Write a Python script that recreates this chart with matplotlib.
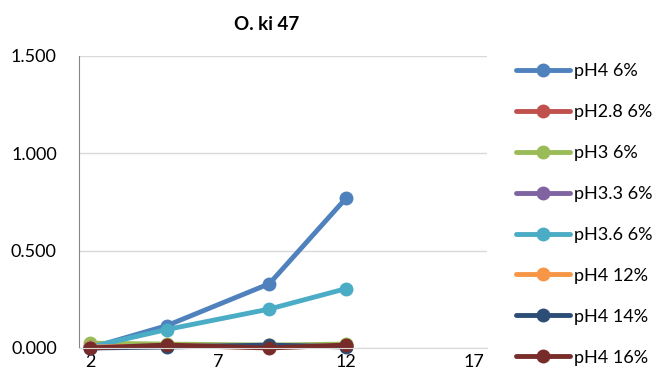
import matplotlib.pyplot as plt

plt.rcParams['font.family'] = ['Lato', 'DejaVu Sans']

x = [2, 5, 9, 12]
labels = ['pH4 6%', 'pH2.8 6%', 'pH3 6%', 'pH3.3 6%', 'pH3.6 6%',
          'pH4 12%', 'pH4 14%', 'pH4 16%']
ph4_6 = [0.0, 0.115, 0.33, 0.77]
ph28_6 = [0.01, 0.015, 0.01, 0.015]
ph3_6 = [0.025, 0.02, 0.015, 0.02]
ph33_6 = [0.005, 0.01, 0.01, 0.01]
ph36_6 = [0.005, 0.095, 0.2, 0.305]
ph4_12 = [0.005, 0.01, 0.005, 0.01]
ph4_14 = [0.0, 0.005, 0.015, 0.005]
ph4_16 = [0.0, 0.015, 0.0, 0.015]
series = [ph4_6, ph28_6, ph3_6, ph33_6, ph36_6, ph4_12, ph4_14, ph4_16]
colors = ['#4F81BD', '#C0504D', '#9BBB59', '#8064A2', '#4BACC6',
          '#F79646', '#2C4D75', '#772C2A']

fig = plt.figure(figsize=(6.58, 3.81), dpi=100)
ax = fig.add_axes([79/658, 1 - 348/381, 408/658, 292/381])

for ys, lab, c in zip(series, labels, colors):
    ax.plot(x, ys, color=c, lw=3.5, marker='o', ms=9, label=lab,
            solid_capstyle='round', clip_on=False)

ax.set_xlim(1.57, 17.5)
ax.set_ylim(0, 1.5)
ax.set_xticks([2, 7, 12, 17])
ax.set_yticks([0, 0.5, 1.0, 1.5])
ax.set_yticklabels(['0.000', '0.500', '1.000', '1.500'])
ax.tick_params(length=0, labelsize=13, colors='black')
ax.tick_params(axis='y', pad=16)
ax.tick_params(axis='x', pad=4)
ax.grid(axis='y', color='#D9D9D9', lw=1)
ax.set_axisbelow(True)
for s in ['top', 'right']:
    ax.spines[s].set_visible(False)
ax.spines['left'].set_color('#868686')
ax.spines['bottom'].set_color('#D9D9D9')

fig.text(267/658, 1 - 24/381, 'O. ki 47', ha='center', va='center',
         fontsize=13.5, fontweight='bold')

fig.legend(loc='upper left', bbox_to_anchor=(509/658, 1 - 56/381),
           frameon=False, fontsize=13, labelspacing=1.38, handlelength=3.0,
           handletextpad=0.2, borderaxespad=0)

fig.savefig('out.png', dpi=100)
